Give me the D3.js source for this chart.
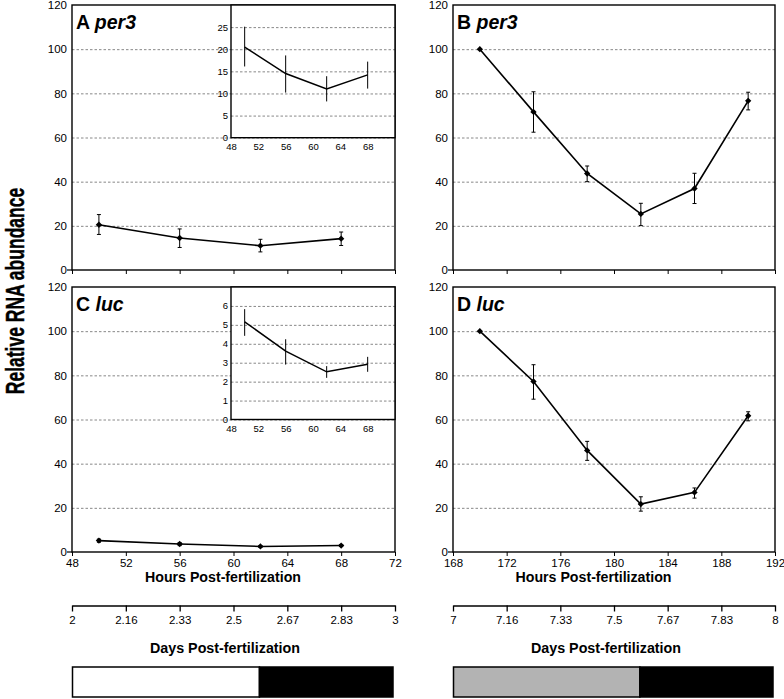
<!DOCTYPE html>
<html><head><meta charset="utf-8">
<script src="https://cdn.jsdelivr.net/npm/d3@7"></script>
<style>
body{margin:0;background:#fff}
svg{display:block}
text{font-family:"Liberation Sans",Arial,Helvetica,sans-serif;fill:#000}
</style>
</head><body>
<svg id="chart" width="784" height="699"></svg>
<script>
// ---------- data ----------
const hoursEarly = [50, 56, 62, 68];
const hoursLate = [170, 174, 178, 182, 186, 190];

const per3Early = [20.5, 14.5, 11.0, 14.2];
const per3EarlyLow = [16.1, 10.2, 8.2, 11.1];
const per3EarlyHigh = [25.1, 18.6, 13.9, 17.2];

const per3Late = [100, 71.6, 43.7, 25.4, 36.9, 76.6];
const per3LateLow = [100, 62.4, 40.0, 20.1, 30.1, 72.5];
const per3LateHigh = [100, 80.7, 47.1, 30.2, 43.8, 80.5];

const lucEarly = [5.16, 3.61, 2.52, 2.92];
const lucEarlyLow = [4.42, 2.90, 2.20, 2.52];
const lucEarlyHigh = [5.83, 4.24, 2.82, 3.31];

const lucLate = [100, 77.2, 46.0, 21.7, 27.0, 61.7];
const lucLateLow = [100, 69.2, 41.5, 18.5, 24.4, 59.4];
const lucLateHigh = [100, 84.8, 50.1, 25.0, 29.0, 63.5];

const yTicksMain = [0, 20, 40, 60, 80, 100, 120];
const hourTicksEarly = [48, 52, 56, 60, 64, 68, 72];
const hourTicksLate = [168, 172, 176, 180, 184, 188, 192];
const insetHourTicks = [48, 52, 56, 60, 64, 68];
const insetTicksPer3 = [0, 5, 10, 15, 20, 25];
const insetTicksLuc = [0, 1, 2, 3, 4, 5, 6];
const dayLabelsEarly = ["2", "2.16", "2.33", "2.5", "2.67", "2.83", "3"];
const dayLabelsLate = ["7", "7.16", "7.33", "7.5", "7.67", "7.83", "8"];
const phaseEarly = [{start: 48, end: 62, phase: "light"}, {start: 62, end: 72, phase: "dark"}];
const phaseLate = [{start: 168, end: 182, phase: "subjective light"}, {start: 182, end: 192, phase: "dark"}];

// ---------- layout / style ----------
const phaseColor = {"light": "#ffffff", "dark": "#000000", "subjective light": "#b3b3b3"};
const FONT = '"Liberation Sans",Arial,Helvetica,sans-serif';
const svg = d3.select("#chart");

const cols = [{x0: 72, x1: 395}, {x0: 453, x1: 775}];
const rows = [{y0: 5, y1: 270}, {y0: 287, y1: 552}];

function series(hours, v, lo, hi) {
  return hours.map((h, i) => ({h, v: v[i], lo: lo[i], hi: hi[i]}));
}

const diamond = d3.symbol().type(d3.symbolSquare).size(20);

function drawPanel(cfg) {
  const {col, row, xDomain, xTicks, showXLabels, data, letter, gene, inset} = cfg;
  const x = d3.scaleLinear().domain(xDomain).range([col.x0, col.x1]);
  const y = d3.scaleLinear().domain([0, 120]).range([row.y1, row.y0]);
  const g = svg.append("g");
  const W = col.x1 - col.x0;

  g.append("rect").attr("x", col.x0).attr("y", row.y0).attr("width", W)
    .attr("height", row.y1 - row.y0).attr("fill", "#fff");

  // gridlines
  const grid = g.append("g").attr("transform", `translate(${col.x0},0)`)
    .call(d3.axisLeft(y).tickValues(yTicksMain.filter(t => t > 0 && t < 120)).tickSize(-W).tickFormat(""));
  grid.select(".domain").remove();
  grid.selectAll("line").attr("stroke", "#7a7a7a").attr("stroke-width", 0.9).attr("stroke-dasharray", "2.5,2");

  // y labels
  const ya = g.append("g").attr("transform", `translate(${col.x0},0)`)
    .call(d3.axisLeft(y).tickValues(yTicksMain).tickSize(0).tickPadding(5));
  ya.select(".domain").remove();
  ya.selectAll("text").attr("font-size", 11.5).attr("font-family", FONT);

  // x axis ticks
  const xa = g.append("g").attr("transform", `translate(0,${row.y1})`)
    .call(d3.axisBottom(x).tickValues(xTicks).tickSize(4).tickSizeOuter(0).tickPadding(3)
      .tickFormat(showXLabels ? d3.format("d") : ""));
  xa.select(".domain").remove();
  xa.selectAll("line").attr("stroke", "#000").attr("stroke-width", 1);
  xa.selectAll("text").attr("font-size", 11.5).attr("font-family", FONT);
  // small left stub at 0
  g.append("line").attr("x1", col.x0 - 5).attr("x2", col.x0).attr("y1", y(0)).attr("y2", y(0))
    .attr("stroke", "#000").attr("stroke-width", 1.2);

  // frame
  g.append("rect").attr("x", col.x0).attr("y", row.y0).attr("width", W)
    .attr("height", row.y1 - row.y0).attr("fill", "none").attr("stroke", "#000").attr("stroke-width", 1.4);

  // error bars
  const eb = g.append("g").attr("stroke", "#000").attr("stroke-width", 1);
  data.filter(d => d.hi - d.lo > 0).forEach(d => {
    eb.append("line").attr("x1", x(d.h)).attr("x2", x(d.h)).attr("y1", y(d.lo)).attr("y2", y(d.hi));
    eb.append("line").attr("x1", x(d.h) - 2).attr("x2", x(d.h) + 2).attr("y1", y(d.lo)).attr("y2", y(d.lo));
    eb.append("line").attr("x1", x(d.h) - 2).attr("x2", x(d.h) + 2).attr("y1", y(d.hi)).attr("y2", y(d.hi));
  });

  // line
  g.append("path").datum(data)
    .attr("d", d3.line().x(d => x(d.h)).y(d => y(d.v)))
    .attr("fill", "none").attr("stroke", "#000").attr("stroke-width", 1.6);

  // markers
  g.selectAll(null).data(data).enter().append("path")
    .attr("d", diamond)
    .attr("transform", d => `translate(${x(d.h)},${y(d.v)}) rotate(45)`)
    .attr("fill", "#000");

  // panel label
  const t = g.append("text").attr("x", col.x0 + 4).attr("y", row.y0 + 23.5)
    .attr("font-size", 19.5).attr("font-weight", "bold").attr("font-family", FONT);
  t.append("tspan").text(letter + " ");
  t.append("tspan").attr("font-style", "italic").text(gene);

  if (inset) drawInset(inset, col, row);
}

function drawInset(cfg, col, row) {
  const {data, yMax, yTicks, bottom} = cfg;
  const ix0 = 231, ix1 = col.x1, iy0 = row.y0, iy1 = row.y0 + bottom;
  const x = d3.scaleLinear().domain([48, 72]).range([ix0, ix1]);
  const y = d3.scaleLinear().domain([0, yMax]).range([iy1, iy0]);
  const g = svg.append("g");
  g.append("rect").attr("x", ix0).attr("y", iy0).attr("width", ix1 - ix0).attr("height", iy1 - iy0).attr("fill", "#fff");

  const grid = g.append("g").attr("transform", `translate(${ix0},0)`)
    .call(d3.axisLeft(y).tickValues(yTicks.filter(t => t > 0)).tickSize(-(ix1 - ix0)).tickFormat(""));
  grid.select(".domain").remove();
  grid.selectAll("line").attr("stroke", "#7a7a7a").attr("stroke-width", 0.9).attr("stroke-dasharray", "2.5,2");

  const ya = g.append("g").attr("transform", `translate(${ix0},0)`)
    .call(d3.axisLeft(y).tickValues(yTicks).tickSize(0).tickPadding(3).tickFormat(d3.format("d")));
  ya.select(".domain").remove();
  ya.selectAll("text").attr("font-size", 9.5).attr("font-family", FONT);

  const xa = g.append("g").attr("transform", `translate(0,${iy1})`)
    .call(d3.axisBottom(x).tickValues(insetHourTicks).tickSize(0).tickPadding(6).tickFormat(d3.format("d")));
  xa.select(".domain").remove();
  xa.selectAll("text").attr("font-size", 9.5).attr("font-family", FONT);

  g.append("rect").attr("x", ix0).attr("y", iy0).attr("width", ix1 - ix0).attr("height", iy1 - iy0)
    .attr("fill", "none").attr("stroke", "#000").attr("stroke-width", 1.4);

  const eb = g.append("g").attr("stroke", "#000").attr("stroke-width", 1);
  data.forEach(d => {
    eb.append("line").attr("x1", x(d.h)).attr("x2", x(d.h)).attr("y1", y(d.lo)).attr("y2", y(d.hi));
  });
  g.append("path").datum(data)
    .attr("d", d3.line().x(d => x(d.h)).y(d => y(d.v)))
    .attr("fill", "none").attr("stroke", "#000").attr("stroke-width", 1.5);
}

const dataA = series(hoursEarly, per3Early, per3EarlyLow, per3EarlyHigh);
const dataB = series(hoursLate, per3Late, per3LateLow, per3LateHigh);
const dataC = series(hoursEarly, lucEarly, lucEarlyLow, lucEarlyHigh);
const dataD = series(hoursLate, lucLate, lucLateLow, lucLateHigh);

drawPanel({col: cols[0], row: rows[0], xDomain: [48, 72], xTicks: hourTicksEarly, showXLabels: false,
  data: dataA, letter: "A", gene: "per3", inset: {data: dataA, yMax: 30, yTicks: insetTicksPer3, bottom: 132.7}});
drawPanel({col: cols[1], row: rows[0], xDomain: [168, 192], xTicks: hourTicksLate, showXLabels: false,
  data: dataB, letter: "B", gene: "per3"});
drawPanel({col: cols[0], row: rows[1], xDomain: [48, 72], xTicks: hourTicksEarly, showXLabels: true,
  data: dataC, letter: "C", gene: "luc", inset: {data: dataC, yMax: 7, yTicks: insetTicksLuc, bottom: 132.5}});
drawPanel({col: cols[1], row: rows[1], xDomain: [168, 192], xTicks: hourTicksLate, showXLabels: true,
  data: dataD, letter: "D", gene: "luc"});

// hours titles
[223, 593.5].forEach(cx => {
  svg.append("text").attr("x", cx).attr("y", 582).attr("text-anchor", "middle")
    .attr("font-size", 14.5).attr("font-weight", "bold").attr("font-family", FONT)
    .attr("textLength", 156).attr("lengthAdjust", "spacingAndGlyphs")
    .text("Hours Post-fertilization");
});

// days axes
[[cols[0], dayLabelsEarly, 225, phaseEarly, [48, 72]], [cols[1], dayLabelsLate, 606, phaseLate, [168, 192]]]
  .forEach(([col, labels, cx, phases, hDom]) => {
    const d = d3.scaleLinear().domain([0, labels.length - 1]).range([col.x0, col.x1]);
    const ax = svg.append("g").attr("transform", "translate(0,605.5)")
      .call(d3.axisBottom(d).tickValues(d3.range(labels.length)).tickSize(6).tickSizeOuter(0).tickPadding(4)
        .tickFormat((v, i) => labels[i]));
    ax.select(".domain").attr("stroke", "#000").attr("stroke-width", 1.3);
    ax.selectAll("line").attr("stroke", "#000").attr("stroke-width", 1.3);
    ax.selectAll("text").attr("font-size", 11.5).attr("font-family", FONT);

    svg.append("text").attr("x", cx).attr("y", 653).attr("text-anchor", "middle")
      .attr("font-size", 14.5).attr("font-weight", "bold").attr("font-family", FONT)
      .attr("textLength", 150).attr("lengthAdjust", "spacingAndGlyphs")
      .text("Days Post-fertilization");

    const hx = d3.scaleLinear().domain(hDom).range([col.x0 + 0.5, col.x1 - 2]);
    svg.selectAll(null).data(phases).enter().append("rect")
      .attr("x", p => hx(p.start)).attr("width", p => hx(p.end) - hx(p.start))
      .attr("y", 667).attr("height", 30)
      .attr("fill", p => phaseColor[p.phase]).attr("stroke", "#000").attr("stroke-width", 1.5);
  });

// y title
svg.append("text")
  .attr("transform", "translate(24,291) rotate(-90) scale(1,1.5)")
  .attr("text-anchor", "middle").attr("font-size", 17.5).attr("font-weight", "bold").attr("font-family", FONT)
  .attr("stroke", "#000").attr("stroke-width", 0.3)
  .text("Relative RNA abundance");
</script>
</body></html>
